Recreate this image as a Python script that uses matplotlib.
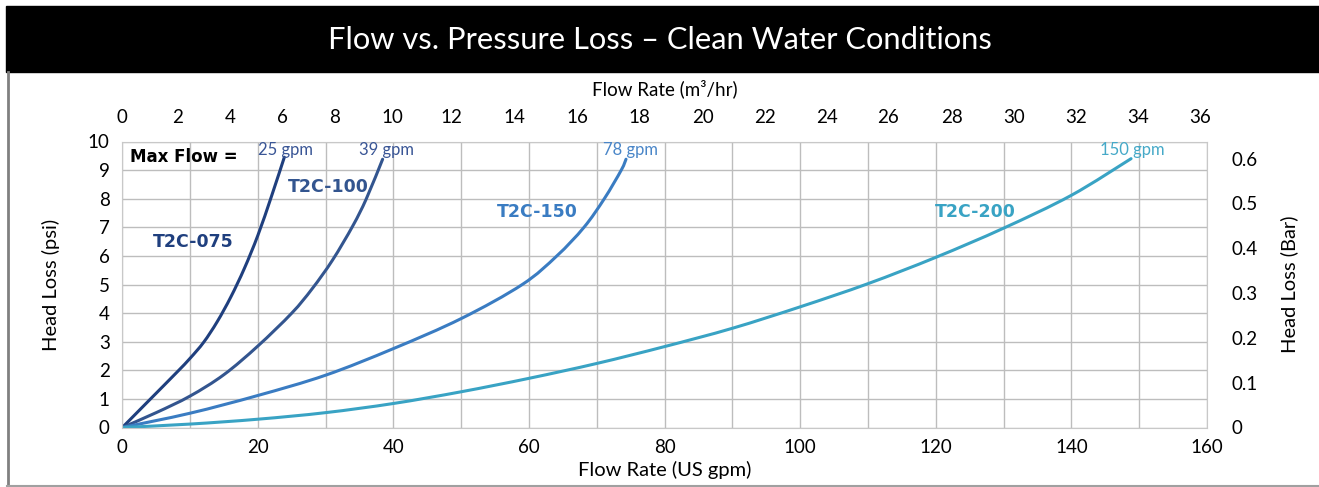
import matplotlib
matplotlib.use("Agg")
import matplotlib.pyplot as plt
from matplotlib.patches import Rectangle, PathPatch
from matplotlib.path import Path
from matplotlib.lines import Line2D
import numpy as np

# ---- data ----
t075_gpm = [0, 4, 8, 10, 12, 14, 16, 18, 20, 22, 23.9]
t075_psi = [0, 0.96, 1.92, 2.42, 2.98, 3.70, 4.56, 5.56, 6.72, 8.08, 9.45]

t100_gpm = [0, 5, 10, 15, 20, 25, 28, 31, 34, 36, 38.4]
t100_psi = [0, 0.52, 1.10, 1.85, 2.85, 4.00, 4.85, 5.85, 7.05, 8.00, 9.38]

t150_gpm = [0, 10, 20, 30, 40, 50, 59, 64.1, 68.1, 71.1, 73.6, 74.3]
t150_psi = [0, 0.50, 1.12, 1.83, 2.76, 3.81, 5.0, 6.0, 7.0, 8.0, 9.0, 9.38]

t200_gpm = [0, 10, 20, 30, 40, 50, 60, 70, 80, 90, 100, 110, 120, 130, 140, 148.8]
t200_psi = [0, 0.12, 0.29, 0.52, 0.84, 1.25, 1.72, 2.24, 2.83, 3.47, 4.22, 5.03, 5.95, 6.97, 8.12, 9.4]

models = ["T2C-075", "T2C-100", "T2C-150", "T2C-200"]
max_flow_labels = ["25 gpm", "39 gpm", "78 gpm", "150 gpm"]
gpm_ticks = list(range(0, 161, 20))
psi_ticks = list(range(0, 11))
# top axis labels (m3/hr) and where they sit along the gpm axis in the reference
m3hr_labels = [str(v) for v in range(0, 37, 2)]
m3hr_label_at_gpm = [0, 8.1, 15.9, 23.6, 31.3, 39.8, 48.6, 57.9, 67.1, 76.3,
                     85.7, 94.8, 103.9, 113.0, 122.4, 131.6, 140.7, 149.9, 159.0]
bar_ticks = [0, 0.1, 0.2, 0.3, 0.4, 0.5, 0.6]
bar_tick_labels = ["0", "0.1", "0.2", "0.3", "0.4", "0.5", "0.6"]

BAR_TOP = 0.638

colors = ["#1f3f7e", "#33558f", "#3a7cc2", "#39a3c4"]
label_colors = ["#3a5696", "#3a5696", "#4a86c8", "#45a9c8"]

FONT = "Lato"
W, H = 1319, 487
X0, X1, Y0, Y1 = 122.3, 1207, 427.5, 141.5   # plot box in pixels


def smooth_path(x, y):
    """Excel-style smoothed line (Catmull-Rom as cubic Bezier) through the points."""
    pts = np.column_stack([x, y]).astype(float)
    verts = [pts[0]]
    codes = [Path.MOVETO]
    n = len(pts)
    for i in range(n - 1):
        p0 = pts[i - 1] if i > 0 else pts[i]
        p1 = pts[i]
        p2 = pts[i + 1]
        p3 = pts[i + 2] if i + 2 < n else pts[i + 1]
        c1 = p1 + (p2 - p0) / 6.0
        c2 = p2 - (p3 - p1) / 6.0
        verts += [c1, c2, p2]
        codes += [Path.CURVE4] * 3
    return Path(verts, codes)


fig = plt.figure(figsize=(W / 100, H / 100), dpi=100)

# frame / title bar
fig.patches.append(Rectangle((6 / W, 1 - 72 / H), 1 - 6 / W, 66 / H,
                             transform=fig.transFigure, color="black", zorder=0))
fig.lines.append(Line2D([7.5 / W, 7.5 / W], [0, 1 - 72 / H], transform=fig.transFigure,
                        color="#808080", lw=2))
fig.lines.append(Line2D([7 / W, 1], [1.2 / H, 1.2 / H], transform=fig.transFigure,
                        color="#a0a0a0", lw=1.5))
fig.text(0.5, 1 - 40 / H, "Flow vs. Pressure Loss \u2013 Clean Water Conditions",
         color="white", ha="center", va="center", fontsize=22.2, family=FONT)

ax = fig.add_axes([X0 / W, 1 - Y0 / H, (X1 - X0) / W, (Y0 - Y1) / H])
ax.set_xlim(0, 160)
ax.set_ylim(0, 10)
ax.set_xticks(gpm_ticks)
ax.set_yticks(psi_ticks)
ax.set_xticks(range(0, 161, 10), minor=True)
ax.grid(True, which="both", color="#bdbdbd", lw=1)
ax.set_axisbelow(True)
for s in ax.spines.values():
    s.set_color("#c8c8c8")
ax.tick_params(which="both", length=0, labelsize=13.5)
ax.tick_params(axis="y", pad=9)
ax.tick_params(axis="x", pad=8)
for lab in ax.get_xticklabels() + ax.get_yticklabels():
    lab.set_family(FONT)
ax.set_xlabel("Flow Rate (US gpm)", fontsize=14.5, family=FONT, labelpad=4)
ax.set_ylabel("Head Loss (psi)", fontsize=14.5, family=FONT, labelpad=20)

series = [(t075_gpm, t075_psi), (t100_gpm, t100_psi), (t150_gpm, t150_psi), (t200_gpm, t200_psi)]
for (x, y), c in zip(series, colors):
    ax.add_patch(PathPatch(smooth_path(x, y), facecolor="none", edgecolor=c, lw=2.2,
                           capstyle="round"))

# max flow labels
ax.text(1.1, 9.45, "Max Flow =", fontsize=12, fontweight="bold", family="DejaVu Sans",
        va="center", ha="left", color="black")
mf_pos = [(20.0, 9.72), (34.9, 9.72), (70.9, 9.72), (144.2, 9.7)]
for (x, y), t, c in zip(mf_pos, max_flow_labels, label_colors):
    ax.text(x, y, t, fontsize=12, family=FONT, color=c, va="center", ha="left")

# model labels
mod_pos = [(4.5, 6.5), (24.4, 8.42), (55.3, 7.55), (119.9, 7.55)]
for (x, y), t, c in zip(mod_pos, models, colors):
    ax.text(x, y, t, fontsize=12.5, fontweight="bold", family="DejaVu Sans", color=c,
            va="center", ha="left")

# top axis (m3/hr)
axt = ax.twiny()
axt.set_xlim(0, 160)
axt.set_xticks(m3hr_label_at_gpm)
axt.set_xticklabels(m3hr_labels)
axt.tick_params(length=0, labelsize=13.5, pad=11)
for lab in axt.get_xticklabels():
    lab.set_family(FONT)
axt.set_xlabel("Flow Rate (m\u00b3/hr)", fontsize=13.5, family=FONT, labelpad=10)
for s in axt.spines.values():
    s.set_visible(False)

# right axis (bar)
axr = ax.twinx()
axr.set_ylim(0, BAR_TOP)
axr.set_yticks(bar_ticks)
axr.set_yticklabels(bar_tick_labels)
axr.tick_params(length=0, labelsize=13.5, pad=18)
for lab in axr.get_yticklabels():
    lab.set_family(FONT)
axr.set_ylabel("Head Loss (Bar)", fontsize=14.5, family=FONT, labelpad=16)
for s in axr.spines.values():
    s.set_visible(False)

fig.savefig("out.png", dpi=100)
